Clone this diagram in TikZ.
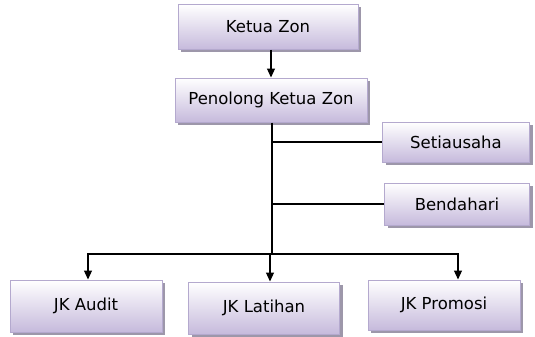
\documentclass[tikz,border=0pt]{standalone}
\usepackage{fontspec}
\setmainfont{DejaVu Sans}
\usetikzlibrary{arrows.meta,shadows}

\definecolor{boxline}{HTML}{B4A9CE}
\definecolor{boxfill}{HTML}{C6BADC}
\definecolor{boxshade}{HTML}{9D97AA}

\tikzset{
  unit/.style={draw=boxline, line width=1pt, top color=white, bottom color=boxfill,
    drop shadow={shadow xshift=3pt, shadow yshift=-3pt, fill=boxshade, opacity=1},
    font=\fontsize{16.5}{19}\selectfont, inner sep=0pt},
  link/.style={line width=1.2pt, black},
  tip/.style={-{Triangle[length=9pt,width=8pt]}}
}

\def \trunkX {272}

\begin{document}
\begin{tikzpicture}[x=1pt,y=-1pt]
      \useasboundingbox (0,0) rectangle (535,337);
      % top of the chart
      \node[unit, minimum width=180pt, minimum height=45pt] (ketua) at (268,27) {Ketua Zon};
      \node[unit, minimum width=192pt, minimum height=44pt] (penolong) at (271,100) {Penolong Ketua Zon};
      % side units
      \node[unit, minimum width=147pt, minimum height=40pt] (setia) at (456,142) {Setiausaha};
      \node[unit, minimum width=145pt, minimum height=42pt] (benda) at (457,204) {Bendahari};
      % committees
      \node[unit, minimum width=152pt, minimum height=52pt] (audit) at (86,306) {JK Audit};
      \node[unit, minimum width=151pt, minimum height=52pt] (latihan) at (264,308) {JK Latihan};
      \node[unit, minimum width=152pt, minimum height=50pt] (promosi) at (444,305) {JK Promosi};
      \coordinate (split) at (\trunkX,254);

      \draw[link, tip] (ketua.south -| penolong.north) -- (penolong.north);
      \draw[link] (split |- penolong.south) -- (split);
      \draw[link] (split |- setia.west) -- (setia.west);
      \draw[link] (split |- benda.west) -- (benda.west);
      \draw[link, tip] (split) -| ([xshift=2pt]audit.north);
      \draw[link, tip] (split) -| ([xshift=6pt]latihan.north);
      \draw[link, tip] (split) -| ([xshift=14pt]promosi.north);
   \end{tikzpicture}
\end{document}
